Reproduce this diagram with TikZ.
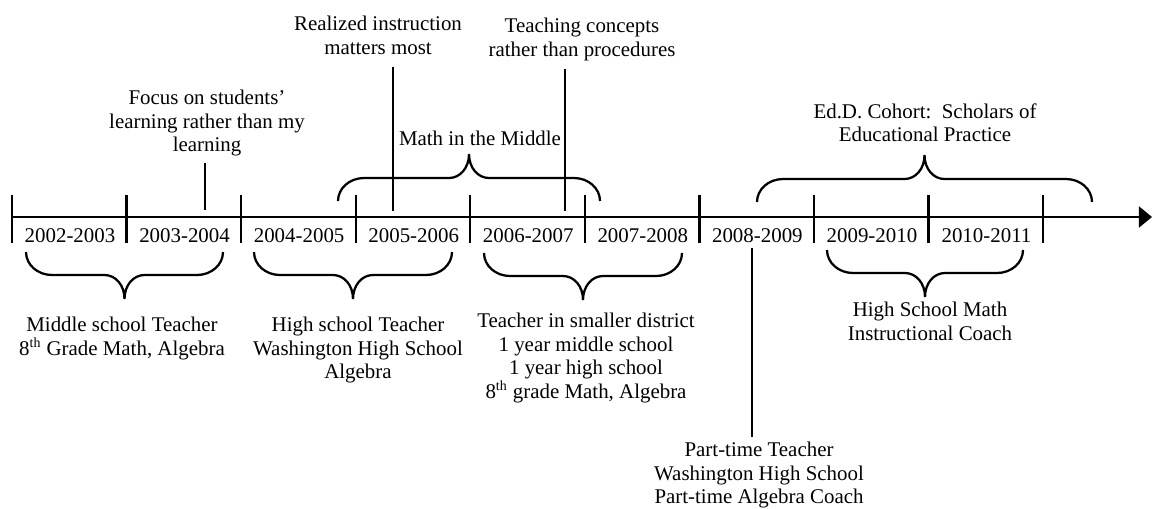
\documentclass[tikz,border=0pt]{standalone}
\usepackage{fontspec}
\setmainfont{Liberation Serif}
\usetikzlibrary{arrows.meta}

\tikzset{
  tl line/.style={line width=1.3pt},
  note/.style={align=center, inner sep=0pt, anchor=north},
  yearlbl/.style={inner sep=0pt, anchor=base},
}
% brace over or under the timeline: left x, right x, end y, direction (1 down, -1 up)
\newcommand{\spanbrace}[4]{%
  \draw[tl line, shift={(0,#3)}, yscale=#4]
    (#1,0) .. controls +(0,12.7) and +(-14.4,0) .. ++(26,23)
    -- ({(#1+#2)/2-20},23) .. controls +(11,0) and +(0,-14) .. ++(20,24)
    .. controls +(0,-14) and +(-11,0) .. ++(20,-24)
    -- ({#2-26},23) .. controls +(14.4,0) and +(0,12.7) .. ++(26,-23);}

\begin{document}
\begin{tikzpicture}[x=0.574pt, y=-0.574pt, font=\fontsize{12}{13.5}\selectfont]
  \useasboundingbox (0,0) rectangle (1152,508);

  % the time line with its school years
  \coordinate (axis start) at (12,217);
  \coordinate (axis end) at (1152,217);
  \draw[tl line, -{Triangle[length=7.5pt, width=12pt]}] (axis start) -- (axis end);
  \foreach \i in {0,...,9}
    \draw[tl line] (12+114.56*\i,195) -- ++(0,48);
  \foreach \yr [count=\i from 0, evaluate=\yr as \nxt using int(\yr+1)] in {2002,...,2010}
    \node[yearlbl] (y\yr) at (70+114.56*\i,242) {\yr-\nxt};

  % above the line
  \node[note] (focus) at (207,90) {Focus on students'\\learning rather than my\\learning};
  \coordinate (focus foot) at (205,210);
  \draw[tl line, shorten <=3.4pt] (focus foot |- focus.south) -- (focus foot);

  \node[note] (realized) at (378,16) {Realized instruction\\matters most};
  \coordinate (realized foot) at (393,211);
  \draw[tl line, shorten <=6.9pt] (realized foot |- realized.south) -- (realized foot);

  \node[note] (concepts) at (582,18) {Teaching concepts\\rather than procedures};
  \coordinate (concepts foot) at (565,211);
  \draw[tl line, shorten <=4.4pt] (concepts foot |- concepts.south) -- (concepts foot);

  \spanbrace{338}{600}{201}{-1}
  \node[yearlbl] (mim) at (480,145) {Math in the Middle};

  \spanbrace{757}{1092}{202}{-1}
  \node[note] (edd) at (925,103) {Ed.D. Cohort:\ \ Scholars of\\Educational Practice};

  % below the line
  \spanbrace{26}{223}{252}{1}
  \node[note] (middle) at (122,317) {Middle school Teacher\\8\textsuperscript{th} Grade Math, Algebra};

  \spanbrace{254}{452}{252}{1}
  \node[note] (washington) at (358,317) {High school Teacher\\Washington High School\\Algebra};

  \spanbrace{484}{682}{253}{1}
  \node[note] (district) at (586,313) {Teacher in smaller district\\1 year middle school\\1 year high school\\8\textsuperscript{th} grade Math, Algebra};

  \spanbrace{827}{1023}{250}{1}
  \node[note] (coach) at (930,302) {High School Math\\Instructional Coach};

  \node[note] (parttime) at (759,442) {Part-time Teacher\\Washington High School\\Part-time Algebra Coach};
  \coordinate (parttime top) at (752,248);
  \draw[tl line, shorten >=2.9pt] (parttime top) -- (parttime top |- parttime.north);
\end{tikzpicture}
\end{document}
